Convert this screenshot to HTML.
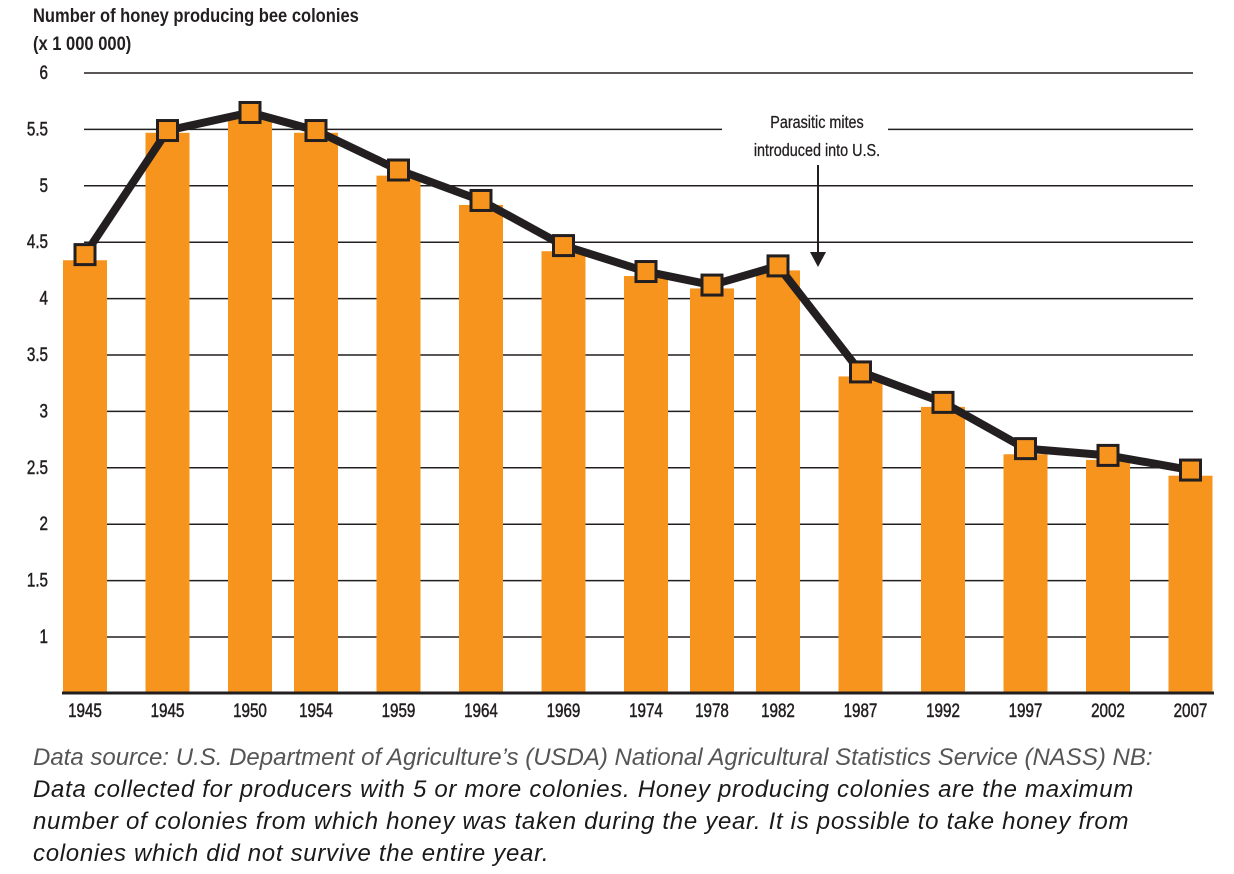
<!DOCTYPE html>
<html><head><meta charset="utf-8"><style>
html,body{margin:0;padding:0;background:#fff;}
body{width:1234px;height:874px;overflow:hidden;position:relative;font-family:"Liberation Sans",sans-serif;}
.note{position:absolute;left:33px;font-style:italic;font-size:24px;white-space:nowrap;color:#1a1a1a;line-height:28px;}
</style></head><body>
<svg id="chart" width="1234" height="740" style="position:absolute;left:0;top:0" xmlns="http://www.w3.org/2000/svg">
  <g font-family="Liberation Sans, sans-serif" font-weight="bold" font-size="19" fill="#231f20">
    <text x="33" y="22" transform="translate(33,0) scale(0.87,1) translate(-33,0)">Number of honey producing bee colonies</text>
    <text x="33" y="50" transform="translate(33,0) scale(0.87,1) translate(-33,0)">(x 1 000 000)</text>
  </g>
  <g id="grid"></g>
  <g id="bars"></g>
  <g id="xlabels"></g>
  <g id="ylabels"></g>
  <g id="line"></g>
  <g>
    <rect x="722" y="112" width="166" height="50" fill="#fff"/>
    <text x="817" y="128" text-anchor="middle" font-size="18" fill="#231f20" stroke="#231f20" stroke-width="0.3" transform="translate(817,0) scale(0.8,1) translate(-817,0)">Parasitic mites</text>
    <text x="817" y="156" text-anchor="middle" font-size="18" fill="#231f20" stroke="#231f20" stroke-width="0.3" transform="translate(817,0) scale(0.8,1) translate(-817,0)">introduced into U.S.</text>
    <line x1="818" y1="165" x2="818" y2="255" stroke="#231f20" stroke-width="2"/>
    <polygon points="810,252 826,252 818,267" fill="#231f20"/>
  </g>
</svg>
<div class="note" style="top:744px;color:#555;">Data source: U.S. Department of Agriculture’s (USDA) National Agricultural Statistics Service (NASS) NB:</div>
<div class="note" style="top:776px;letter-spacing:0.7px;">Data collected for producers with 5 or more colonies. Honey producing colonies are the maximum</div>
<div class="note" style="top:808px;letter-spacing:0.7px;">number of colonies from which honey was taken during the year. It is possible to take honey from</div>
<div class="note" style="top:840px;letter-spacing:0.7px;">colonies which did not survive the entire year.</div>
<script>
const years = [1940,1945,1950,1954,1959,1964,1969,1974,1978,1982,1987,1992,1997,2002,2007];
const yearLabels = ["1945","1945","1950","1954","1959","1964","1969","1974","1978","1982","1987","1992","1997","2002","2007"];
const barValues = [4.34,5.47,5.61,5.47,5.09,4.83,4.42,4.2,4.09,4.25,3.31,3.04,2.62,2.57,2.43];
const lineValues = [4.39,5.49,5.65,5.49,5.14,4.87,4.47,4.24,4.12,4.29,3.35,3.08,2.67,2.61,2.48];
const yTicks = [1,1.5,2,2.5,3,3.5,4,4.5,5,5.5,6];
const yTickLabels = ["1","1.5","2","2.5","3","3.5","4","4.5","5","5.5","6"];

const NS = "http://www.w3.org/2000/svg";
const yMin = 0.5, yMax = 6, yTop = 73, yBot = 693.4;
function yS(v){ return yBot - (v - yMin) / (yMax - yMin) * (yBot - yTop); }
function xS(yr){ return 85 + (yr - 1940) * 16.5; }
function mk(tag, attrs, parent){ const e = document.createElementNS(NS, tag); for (const k in attrs) e.setAttribute(k, attrs[k]); parent.appendChild(e); return e; }

const grid = document.getElementById('grid');
yTicks.forEach((t, i) => {
  const l = mk('line', {x1:84, x2:1193, y1:yS(t), y2:yS(t), stroke:'#231f20', 'stroke-width':1.5}, grid);
  
  
});
const yl = document.getElementById('ylabels');
yTicks.forEach((t, i) => {
  const tx = mk('text', {x:48, y:yS(t)+6, 'text-anchor':'end', 'font-size':19, fill:'#231f20', stroke:'#231f20', 'stroke-width':0.5, transform:'translate(48,0) scale(0.8,1) translate(-48,0)'}, yl);
  tx.textContent = yTickLabels[i];
  
  
});
const bars = document.getElementById('bars');
const bw = 44;
years.forEach((yr, i) => {
  const r = mk('rect', {x:xS(yr)-bw/2, y:yS(barValues[i]), width:bw, height:yBot-yS(barValues[i]), fill:'#f7941d'}, bars);
  
  
});
const axis = mk('line', {x1:62, x2:1214, y1:693, y2:693, stroke:'#231f20', 'stroke-width':3}, bars);


const xl = document.getElementById('xlabels');
years.forEach((yr, i) => {
  const cx = xS(yr);
  const tx = mk('text', {x:cx, y:717, 'text-anchor':'middle', 'font-size':19, fill:'#231f20', stroke:'#231f20', 'stroke-width':0.5, transform:`translate(${cx},0) scale(0.8,1) translate(${-cx},0)`}, xl);
  tx.textContent = yearLabels[i];
  
  
});
const lg = document.getElementById('line');
const pts = years.map((yr, i) => xS(yr) + ',' + yS(lineValues[i])).join(' ');
const pl = mk('polyline', {points:pts, fill:'none', stroke:'#231f20', 'stroke-width':8, 'stroke-linejoin':'round'}, lg);


years.forEach((yr, i) => {
  const m = mk('rect', {x:xS(yr)-10, y:yS(lineValues[i])-10, width:20, height:20, fill:'#f7941d', stroke:'#231f20', 'stroke-width':3}, lg);
  
  
});
</script>
</body></html>
